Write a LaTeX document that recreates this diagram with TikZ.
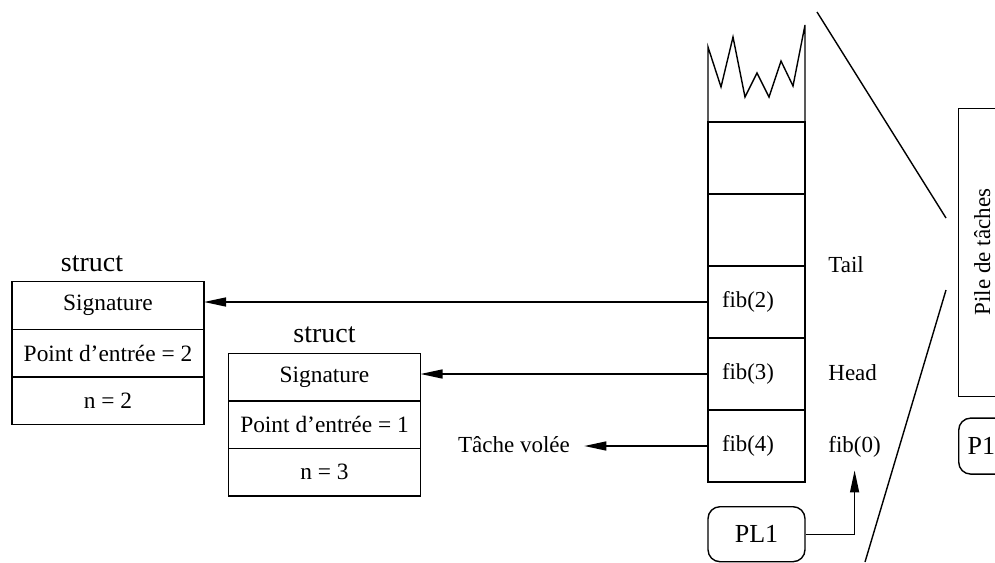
\documentclass[tikz,border=0pt]{standalone}
\usepackage{fontspec}
\setmainfont{Liberation Serif}
\usetikzlibrary{positioning, arrows.meta}
\tikzstyle{field}  = [rectangle, minimum width=96pt, minimum height=23.8pt, outer sep=0pt, text centered, draw=black, line width=0.7pt, font=\fontsize{11.7}{14}\selectfont]
\tikzstyle{cell}   = [rectangle, minimum width=48.5pt, minimum height=36pt, text width=34.5pt, inner xsep=7pt, align=left, outer sep=0pt, draw=black, line width=0.7pt, font=\fontsize{11.4}{14}\selectfont]
\tikzstyle{proc}   = [rectangle, rounded corners=6pt, minimum width=48.5pt, minimum height=27.5pt, text centered, draw=black, line width=0.7pt, font=\fontsize{13}{15}\selectfont]
\tikzstyle{txt}    = [inner sep=2pt, text height=8.5pt, text depth=2.5pt, font=\fontsize{11.5}{14}\selectfont]
\tikzstyle{title}  = [inner sep=2pt, font=\fontsize{14}{16}\selectfont]
\tikzstyle{ptr}    = [-{Triangle[length=11pt,width=4.5pt]}, line width=0.7pt]

\begin{document}
\begin{tikzpicture}[x=0.5pt, y=-0.5pt]
            \clip (0,0) rectangle (995,562);

            % task stack
            \node[cell] (t1) at (756.5,158) {};
            \node[cell] (t2) [below=0pt of t1] {};
            \node[cell] (f2) [below=0pt of t2] {fib(2)};
            \node[cell] (f3) [below=0pt of f2] {fib(3)};
            \node[cell] (f4) [below=0pt of f3] {fib(4)};
            \draw[line width=0.7pt] (t1.north west) -- (708,47) -- (721,87) -- (733,37) -- (745,97) -- (757,73)
                  -- (769,97) -- (781,61) -- (793,86) -- (805,25) -- (t1.north east);

            \node[txt] (tail) [right=9.5pt of f2.north east] {Tail};
            \node[txt] (head) [right=9.5pt of f3] {Head};
            \node[txt] (fib0) [right=9.5pt of f4] {fib(0)};
            \node[proc] (pl1) [below=12pt of f4] {PL1};

            % frames
            \node[field] (s1a) at (108,305.5) {Signature};
            \node[field] (s1b) [below=0pt of s1a] {Point d'entrée = 2};
            \node[field] (s1c) [below=0pt of s1b] {n = 2};
            \node[title] (st1) [above=3pt of s1a, xshift=-8pt] {struct};

            \node[field] (s2a) at (324.5,377) {Signature};
            \node[field] (s2b) [below=0pt of s2a] {Point d'entrée = 1};
            \node[field] (s2c) [below=0pt of s2b] {n = 3};
            \node[title] (st2) [above=3pt of s2a] {struct};

            \node[txt, inner xsep=7pt] (stolen) at (514,446) {Tâche volée};

            % processor view
            \node[rectangle, draw=black, line width=0.7pt, anchor=north west, minimum width=60pt, minimum height=144pt] (pile) at (958,108) {};
            \node[txt, rotate=90] (piletxt) at (984,252) {Pile de tâches};
            \node[proc, minimum width=40pt, minimum height=28pt, text width=31pt, inner xsep=4.5pt, align=left] (p1) [below=10pt of pile.south west, anchor=north west] {P1};

            \coordinate (zt) at (817,12);
            \coordinate (zm) at (946,218);
            \coordinate (zn) at (946,290);
            \coordinate (zb) at (865,562);
            \draw[line width=0.7pt] (zt) -- (zm);
            \draw[line width=0.7pt] (zn) -- (zb);

            \draw[ptr] (f2.west) -- (f2.west -| s1a.east);
            \draw[ptr] (f3.west) -- (f3.west -| s2a.east);
            \draw[ptr] (f4.west) -- (stolen.east);
            \draw[ptr, shorten >=4.5pt] (pl1.east) -| (fib0.south);
        \end{tikzpicture}
\end{document}
